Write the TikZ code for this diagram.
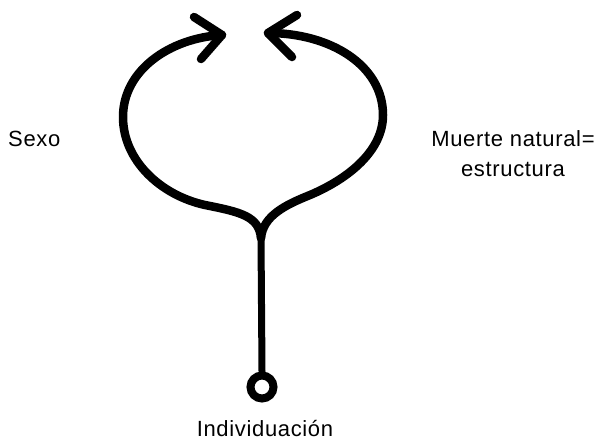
\documentclass[tikz,border=0pt]{standalone}
\usepackage{fontspec}
\setmainfont{Liberation Sans}[LetterSpace=3]
\begin{document}
\begin{tikzpicture}[x=1pt,y=-1pt,
  loopline/.style={line width=8.5pt,line cap=round,line join=round},
  stemline/.style={line width=7pt,line cap=round},
  lbl/.style={font=\fontsize{22}{28}\selectfont,align=center,inner sep=0pt}]
\useasboundingbox (0,0) rectangle (596,440);
% named points
\coordinate (J) at (261,238);
\coordinate (LT) at (222,35);
\coordinate (RT) at (268,33);
\coordinate (LB1) at (194,17);
\coordinate (LB2) at (201,59);
\coordinate (RB1) at (297,15);
\coordinate (RB2) at (292,57);
\node[circle,draw,line width=8pt,minimum size=23pt,inner sep=0pt] (C) at (262,387) {};
% branches
\draw[loopline] (J) .. controls (259,216) and (240,212) .. (205,205)
  .. controls (160,195) and (123,160) .. (123,117)
  .. controls (123,70) and (170,38) .. (LT);
\draw[loopline] (J) .. controls (263,216) and (285,205) .. (310,195)
  .. controls (350,178) and (383,150) .. (383,115)
  .. controls (383,65) and (330,33) .. (RT);
% arrow barbs
\draw[loopline] (LB1) -- (LT) -- (LB2);
\draw[loopline] (RB1) -- (RT) -- (RB2);
% stem
\draw[stemline] (J) -- (C.north);
% labels
\node[lbl,anchor=base west] (sexo) at (8,146) {Sexo};
\node[lbl,anchor=base] (muerte) at (513,146) {Muerte natural=};
\node[lbl,anchor=base] (estr) at (513,176) {estructura};
\node[lbl,anchor=base] (ind) at (265,436) {Individuación};
\end{tikzpicture}
\end{document}
